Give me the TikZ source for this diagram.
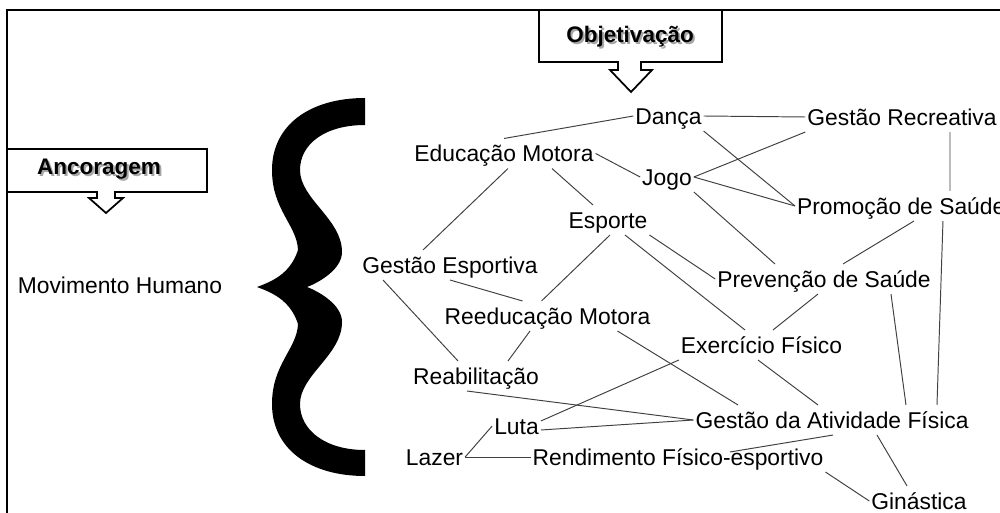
\documentclass[tikz,border=0pt]{standalone}
\usepackage{fontspec}
\setmainfont{Liberation Sans}
\begin{document}
\begin{tikzpicture}[x=0.02cm, y=-0.02cm,
        term/.style = {font=\fontsize{13}{15}\selectfont, inner sep=1pt, text height=12pt, text depth=2.7pt},
        tag/.style = {font=\fontsize{12.8}{15}\selectfont\bfseries},
        link/.style = {draw=black!75, line width=0.55pt},
        callout/.style = {draw, line width=1pt, fill=white}]
        \useasboundingbox (0,0) rectangle (1000,513);

        % frame
        \draw[line width=1.2pt] (7,520) -- (7,10) -- (1010,10);

        % callouts
        \draw[callout] (539,10) -- (722,10) -- (722,62) -- (641,62) -- (641,70) -- (652,70)
            -- (631,92) -- (610,70) -- (618,70) -- (618,62) -- (539,62) -- cycle;
        \draw[callout] (7,149) -- (207,149) -- (207,192) -- (115,192) -- (115,198) -- (123,198)
            -- (106,213) -- (89,198) -- (97,198) -- (97,192) -- (7,192) -- cycle;
        \node[tag, text=black!35] (objshadow) at (632,39) {Objetivação};
        \node[tag] (obj) at (630,37) {Objetivação};
        \node[tag, text=black!35] (ancshadow) at (101,171) {Ancoragem};
        \node[tag] (anc) at (99,169) {Ancoragem};

        % brace
        \fill (365,98) .. controls (310,98) and (272,125) .. (272,170)
            .. controls (272,210) and (297,225) .. (298,250)
            .. controls (290,275) and (270,282) .. (257,287)
            .. controls (270,292) and (290,299) .. (298,324)
            .. controls (297,349) and (272,364) .. (272,404)
            .. controls (272,449) and (310,476) .. (365,476)
            -- (365,450)
            .. controls (325,450) and (300,430) .. (300,404)
            .. controls (300,375) and (342,355) .. (342,322)
            .. controls (342,305) and (320,292) .. (307,287)
            .. controls (320,282) and (342,269) .. (342,252)
            .. controls (342,219) and (300,199) .. (300,170)
            .. controls (300,144) and (325,125) .. (365,125) -- cycle;

        \node[term] (movh)    at (120,285)   {Movimento Humano};
        \node[term] (danca)   at (668.5,116) {Dança};
        \node[term] (grec)    at (902,117)   {Gestão Recreativa};
        \node[term] (edmot)   at (504,153.5) {Educação Motora};
        \node[term] (jogo)    at (667,177)   {Jogo};
        \node[term, anchor=west] (promo) at (795,206) {Promoção de Saúde};
        \node[term] (esporte) at (608,220)   {Esporte};
        \node[term] (gesp)    at (450,265)   {Gestão Esportiva};
        \node[term] (prev)    at (824,279)   {Prevenção de Saúde};
        \node[term] (reed)    at (547.5,316) {Reeducação Motora};
        \node[term] (exerc)   at (761.5,345) {Exercício Físico};
        \node[term] (reab)    at (476,376)   {Reabilitação};
        \node[term] (gaf)     at (832,420)   {Gestão da Atividade Física};
        \node[term] (luta)    at (516.5,426) {Luta};
        \node[term] (lazer)   at (434.5,457) {Lazer};
        \node[term] (rend)    at (678,457)   {Rendimento Físico-esportivo};
        \node[term] (gin)     at (919,501)   {Ginástica};

        \draw[link] (edmot.north) -- (danca.west);
        \draw[link] (danca.east) -- (grec.west);
        \draw[link] (danca.south east) -- (promo.west);
        \draw[link] (jogo.east) -- (grec.south west);
        \draw[link] (jogo.east) -- (promo.west);
        \draw[link] (jogo.south east) -- ([xshift=-0.98cm]prev.north);
        \draw[link] (edmot.east) -- (jogo.west);
        \draw[link] ([xshift=0.08cm]edmot.south) -- ([xshift=-0.54cm]gesp.north);
        \draw[link] ([xshift=0.96cm]edmot.south) -- ([xshift=-0.3cm]esporte.north);
        \draw[link] (esporte.south east) -- (prev.west);
        \draw[link] ([xshift=0.04cm]esporte.south) -- ([xshift=-0.12cm]reed.north);
        \draw[link] ([xshift=0.34cm]esporte.south) -- ([xshift=-0.33cm]exerc.north);
        \draw[link] ([xshift=-0.07cm]exerc.south) -- ([xshift=-0.28cm]gaf.north);
        \draw[link] (gesp.south) -- ([xshift=-0.5cm]reed.north);
        \draw[link] ([xshift=-1.34cm]gesp.south) -- ([xshift=-0.36cm]reab.north);
        \draw[link] ([xshift=-0.35cm]reed.south) -- ([xshift=0.64cm]reab.north);
        \draw[link] ([xshift=1.4cm]reed.south) -- ([xshift=-1.88cm]gaf.north);
        \draw[link] ([xshift=-0.18cm]reab.south) -- (gaf.west);
        \draw[link] ([yshift=-0.08cm]luta.east) -- (gaf.west);
        \draw[link] ([yshift=0.1cm]luta.east) -- (exerc.south west);
        \draw[link] (lazer.east) -- (luta.west);
        \draw[link] (lazer.east) -- (rend.west);
        \draw[link] ([xshift=1.04cm, yshift=-0.2cm]rend.north) -- ([xshift=0.02cm]gaf.south);
        \draw[link] (rend.south east) -- (gin.west);
        \draw[link] ([xshift=0.9cm]gaf.south) -- ([xshift=-0.24cm]gin.north);
        \draw[link] ([xshift=0.38cm]prev.north) -- ([xshift=2.38cm]promo.south west);
        \draw[link] ([xshift=0.96cm]grec.south) -- ([xshift=3.1cm]promo.north west);
        \draw[link] ([xshift=2.96cm]promo.south west) -- ([xshift=2.1cm]gaf.north);
        \draw[link] ([xshift=1.34cm]prev.south) -- ([xshift=1.48cm]gaf.north);
        \draw[link] ([xshift=-0.12cm]prev.south) -- ([xshift=0.23cm]exerc.north);

    \end{tikzpicture}
\end{document}
